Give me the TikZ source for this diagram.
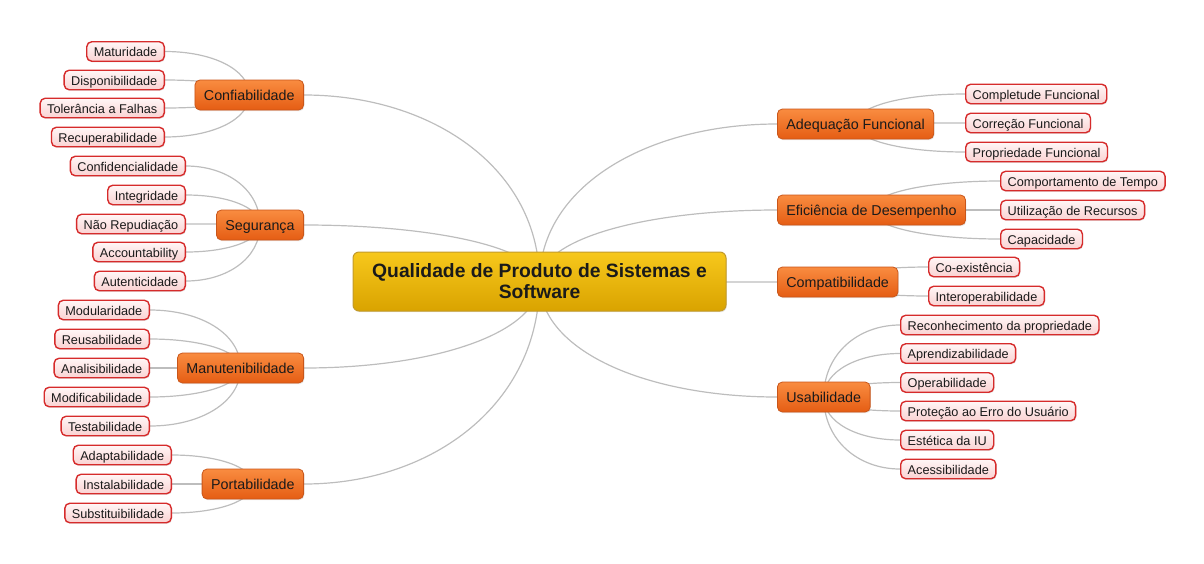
\documentclass[tikz,border=0pt]{standalone}
\usepackage{fontspec}
\setmainfont{Liberation Sans}
\usetikzlibrary{calc,shadows}
\pgfdeclarelayer{bg}
\pgfsetlayers{bg,main}
\definecolor{lnk}{HTML}{BDBDBD}
\definecolor{orT}{HTML}{F98C40}
\definecolor{orB}{HTML}{E55D14}
\definecolor{orD}{HTML}{C9561A}
\definecolor{lfT}{HTML}{FFF6F6}
\definecolor{lfB}{HTML}{FAD2D2}
\definecolor{lfD}{HTML}{D62B2B}
\definecolor{gdT}{HTML}{F7C81C}
\definecolor{gdB}{HTML}{D9A300}
\definecolor{gdD}{HTML}{C29A2A}
\definecolor{txt}{HTML}{1A1A1A}
\tikzset{
  softshadow/.style={drop shadow={opacity=0.18, shadow xshift=0.8pt, shadow yshift=-1.2pt}},
  leaf/.style={draw=lfD, line width=1.4pt, rounded corners=5pt, top color=lfT, bottom color=lfB,
    minimum height=19.5pt, inner xsep=7pt, inner ysep=0pt, text height=10.4pt, text depth=0pt,
    font=\fontsize{12.7}{14}\selectfont, text=txt, softshadow},
  branch/.style={draw=orD, line width=0.8pt, rounded corners=5pt, top color=orT, bottom color=orB,
    minimum height=30pt, inner xsep=9pt, inner ysep=0pt, text height=11.4pt, text depth=0pt,
    font=\fontsize{14.3}{16}\selectfont, text=txt, softshadow},
  root/.style={draw=gdD, line width=1pt, rounded corners=6pt, top color=gdT, bottom color=gdB,
    minimum width=373pt, minimum height=59pt, align=center, font=\bfseries\fontsize{19.3}{21}\selectfont, text=txt, softshadow},
  lnkline/.style={draw=lnk, line width=1.2pt},
}
% smooth connector from the centre of #1 to the point #2
\newcommand{\lk}[2]{\draw[lnkline] (#1.center) .. controls ($(#1.center)!0.6!(#1.center |- #2)$) and ($(#2)!0.55!(#1.center |- #2)$) .. (#2);}
\begin{document}
\begin{tikzpicture}[x=1pt,y=-1pt]
\useasboundingbox (0,0) rectangle (1204,563);
% root
\node[root] (c) at (539.5,281.5) {Qualidade de Produto de Sistemas e\\Software};
% branches left
\node[branch, anchor=east] (conf) at (304,95) {Confiabilidade};
\node[branch, anchor=east] (seg) at (304,225) {Segurança};
\node[branch, anchor=east] (man) at (304,368) {Manutenibilidade};
\node[branch, anchor=east] (port) at (304,484) {Portabilidade};
% branches right
\node[branch, anchor=west] (adq) at (777,124) {Adequação Funcional};
\node[branch, anchor=west] (efi) at (777,210) {Eficiência de Desempenho};
\node[branch, anchor=west] (comp) at (777,282) {Compatibilidade};
\node[branch, anchor=west] (usa) at (777,397) {Usabilidade};
% leaves Confiabilidade
\node[leaf, anchor=east] (c1) at (165,51.5) {Maturidade};
\node[leaf, anchor=east] (c2) at (165,80) {Disponibilidade};
\node[leaf, anchor=east] (c3) at (165,108) {Tolerância a Falhas};
\node[leaf, anchor=east] (c4) at (165,137) {Recuperabilidade};
% leaves Segurança
\node[leaf, anchor=east] (s1) at (186,166) {Confidencialidade};
\node[leaf, anchor=east] (s2) at (186,195) {Integridade};
\node[leaf, anchor=east] (s3) at (186,224) {Não Repudiação};
\node[leaf, anchor=east] (s4) at (186,252) {Accountability};
\node[leaf, anchor=east] (s5) at (186,281) {Autenticidade};
% leaves Manutenibilidade
\node[leaf, anchor=east] (m1) at (150,310) {Modularidade};
\node[leaf, anchor=east] (m2) at (150,339) {Reusabilidade};
\node[leaf, anchor=east] (m3) at (150,368) {Analisibilidade};
\node[leaf, anchor=east] (m4) at (150,397) {Modificabilidade};
\node[leaf, anchor=east] (m5) at (150,426) {Testabilidade};
% leaves Portabilidade
\node[leaf, anchor=east] (p1) at (172,455) {Adaptabilidade};
\node[leaf, anchor=east] (p2) at (172,484) {Instalabilidade};
\node[leaf, anchor=east] (p3) at (172,513) {Substituibilidade};
% leaves Adequação
\node[leaf, anchor=west] (a1) at (965,94) {Completude Funcional};
\node[leaf, anchor=west] (a2) at (965,123) {Correção Funcional};
\node[leaf, anchor=west] (a3) at (965,152) {Propriedade Funcional};
% leaves Eficiência
\node[leaf, anchor=west] (e1) at (1000,181) {Comportamento de Tempo};
\node[leaf, anchor=west] (e2) at (1000,210) {Utilização de Recursos};
\node[leaf, anchor=west] (e3) at (1000,239) {Capacidade};
% leaves Compatibilidade
\node[leaf, anchor=west] (k1) at (928,267) {Co-existência};
\node[leaf, anchor=west] (k2) at (928,296) {Interoperabilidade};
% leaves Usabilidade
\node[leaf, anchor=west] (u1) at (900,325) {Reconhecimento da propriedade};
\node[leaf, anchor=west] (u2) at (900,353.5) {Aprendizabilidade};
\node[leaf, anchor=west] (u3) at (900,382.5) {Operabilidade};
\node[leaf, anchor=west] (u4) at (900,411) {Proteção ao Erro do Usuário};
\node[leaf, anchor=west] (u5) at (900,440) {Estética da IU};
\node[leaf, anchor=west] (u6) at (900,469) {Acessibilidade};
\begin{pgfonlayer}{bg}
% main connectors
\lk{c}{conf.east}
\lk{c}{seg.east}
\lk{c}{man.east}
\lk{c}{port.east}
\lk{c}{adq.west}
\lk{c}{efi.west}
\draw[lnkline] (comp.west) -- (c.center);
\lk{c}{usa.west}
% leaf connectors
\lk{conf}{c1.east}\lk{conf}{c2.east}\lk{conf}{c3.east}\lk{conf}{c4.east}
\lk{seg}{s1.east}\lk{seg}{s2.east}\lk{seg}{s3.east}\lk{seg}{s4.east}\lk{seg}{s5.east}
\lk{man}{m1.east}\lk{man}{m2.east}\lk{man}{m3.east}\lk{man}{m4.east}\lk{man}{m5.east}
\lk{port}{p1.east}\lk{port}{p2.east}\lk{port}{p3.east}
\lk{adq}{a1.west}\lk{adq}{a2.west}\lk{adq}{a3.west}
\lk{efi}{e1.west}\lk{efi}{e2.west}\lk{efi}{e3.west}
\lk{comp}{k1.west}\lk{comp}{k2.west}
\lk{usa}{u1.west}\lk{usa}{u2.west}\lk{usa}{u3.west}\lk{usa}{u4.west}\lk{usa}{u5.west}\lk{usa}{u6.west}
\end{pgfonlayer}
\end{tikzpicture}
\end{document}
